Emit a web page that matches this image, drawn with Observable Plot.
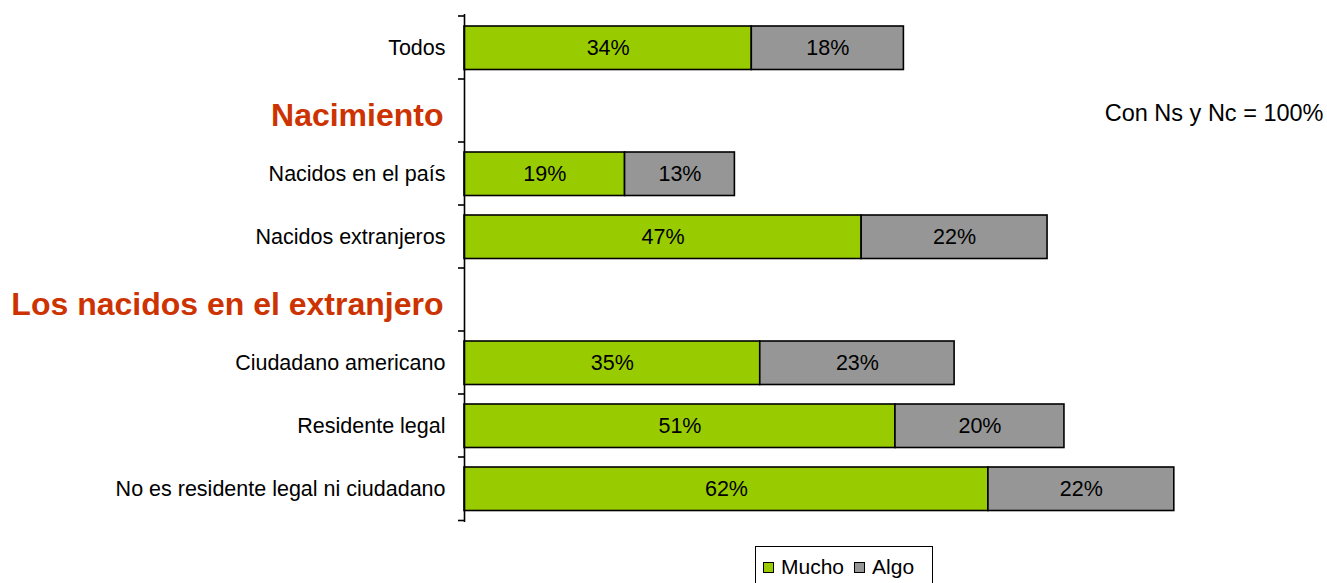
<!DOCTYPE html>
<html><head><meta charset="utf-8">
<script src="https://cdn.jsdelivr.net/npm/d3@7"></script>
<script src="https://cdn.jsdelivr.net/npm/@observablehq/plot@0.6"></script>
<style>
body{margin:0;background:#fff;font-family:"Liberation Sans",Arial,sans-serif;}
#wrap{position:relative;width:1327px;height:583px;overflow:hidden;}
#legend{position:absolute;left:755px;top:546px;width:173px;height:40px;border:1.5px solid #000;box-sizing:content-box;
  display:flex;align-items:flex-start;padding-top:8px;padding-left:3px;font-size:21px;color:#000;}
#legend .sw{display:inline-block;width:9px;height:9px;border:1.5px solid #000;margin:0 7px 0 4px;position:relative;top:7px;}
#legend .it{display:flex;align-items:flex-start;margin-right:6px;}
</style></head><body><div id="wrap"></div>
<script>
const categories = ["Todos","Nacimiento","Nacidos en el país","Nacidos extranjeros","Los nacidos en el extranjero","Ciudadano americano","Residente legal","No es residente legal ni ciudadano"];
const headers = ["Nacimiento","Los nacidos en el extranjero"];
const barCategories = ["Todos","Nacidos en el país","Nacidos extranjeros","Ciudadano americano","Residente legal","No es residente legal ni ciudadano"];
const mucho = [34,19,47,35,51,62];
const algo = [18,13,22,23,20,22];
const seriesNames = ["Mucho","Algo"];
const seriesColors = ["#99CC00","#969696"];
const note = "Con Ns y Nc = 100%";

const data = [];
barCategories.forEach((c,i)=>{
  data.push({cat:c, series:seriesNames[0], value:mucho[i]});
  data.push({cat:c, series:seriesNames[1], value:algo[i]});
});
const labelCats = categories.filter(c=>!headers.includes(c));

const W = 1327, H = 530, mTop = 14, mBottom = 8, mLeft = 464, mRight = 18;

const boundaryTicks = (index, scales, values, dimensions) => {
  const g = d3.create("svg:g");
  const step = (dimensions.height - dimensions.marginTop - dimensions.marginBottom) / categories.length;
  const x0 = scales.x(0);
  const ys = categories.map(c => scales.y(c)).concat([scales.y(categories[categories.length-1]) + step]);
  g.selectAll("line").data(ys).join("line")
    .attr("x1", x0 - 6).attr("x2", x0)
    .attr("y1", d=>d).attr("y2", d=>d)
    .attr("stroke", "#000").attr("stroke-width", 1.6);
  return g.node();
};

const chart = Plot.plot({
  width: W, height: H,
  marginTop: mTop, marginBottom: mBottom, marginLeft: mLeft, marginRight: mRight,
  style: {fontFamily: '"Liberation Sans", Arial, sans-serif', background: "#fff"},
  x: {domain: [0, 100], axis: null},
  y: {domain: categories, padding: 0, axis: null},
  color: {domain: seriesNames, range: seriesColors},
  marks: [
    Plot.barX(data, Plot.stackX({x: "value", y: "cat", fill: "series", order: seriesNames,
      stroke: "#000", strokeWidth: 1.6, insetTop: 10, insetBottom: 9.5})),
    Plot.text(data, Plot.stackX({x: "value", y: "cat", z: "series", order: seriesNames,
      text: d => d.value + "%", fontSize: 21.5, fill: "#000"})),
    Plot.ruleX([0], {stroke: "#000", strokeWidth: 1.6}),
    boundaryTicks,
    Plot.text(labelCats, {y: d=>d, x: 0, text: d=>d, textAnchor: "end", dx: -19, fontSize: 21.5, fill: "#000"}),
    Plot.text(headers, {y: d=>d, x: 0, text: d=>d, textAnchor: "end", dx: -21, dy: 5, fontSize: 32, fontWeight: "bold", fill: "#CC3300"}),
    Plot.text([note], {y: () => headers[0], frameAnchor: "right", textAnchor: "end", dx: 14, dy: 2, text: d=>d, fontSize: 23.5, fill: "#000"})
  ]
});

const wrap = document.getElementById("wrap");
wrap.appendChild(chart);
const legend = document.createElement("div");
legend.id = "legend";
seriesNames.forEach((s,i)=>{
  const it = document.createElement("span"); it.className="it";
  const sw = document.createElement("span"); sw.className="sw"; sw.style.background = seriesColors[i];
  const tx = document.createElement("span"); tx.textContent = s;
  it.appendChild(sw); it.appendChild(tx); legend.appendChild(it);
});
wrap.appendChild(legend);
</script></body></html>
